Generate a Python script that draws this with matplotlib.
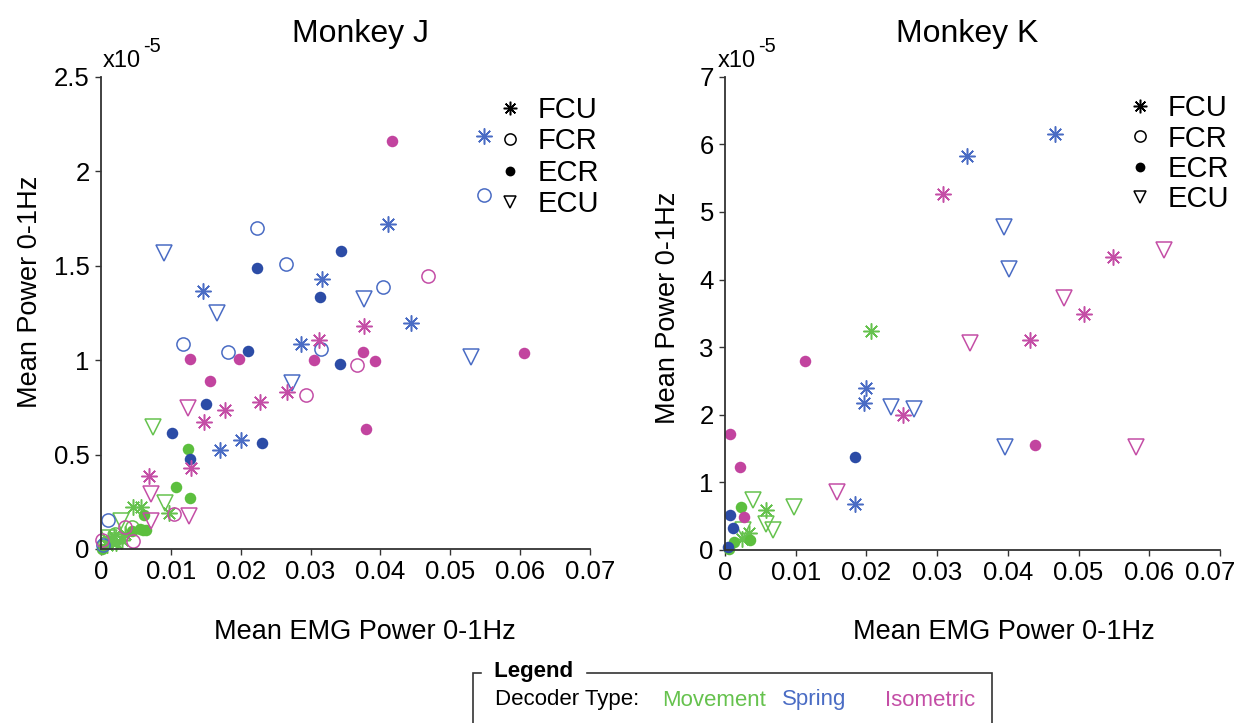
import matplotlib
matplotlib.use("Agg")
import matplotlib.pyplot as plt
from matplotlib.lines import Line2D
from matplotlib.patches import Rectangle
from matplotlib.transforms import ScaledTranslation

plt.rcParams["font.family"] = ["Liberation Sans", "DejaVu Sans"]

# decoder codes: M = movement, S = spring, I = isometric
# muscle codes: FCU, FCR, ECR, ECU
# y values are in units of 1e-5

# ---- Monkey J ----
j_x = [
    # spring
    0.0223, 0.0265, 0.0118, 0.0182, 0.0315, 0.00095, 0.0404, 0.0549, 0.0003,
    0.0223, 0.0343, 0.0314, 0.0211, 0.0342, 0.0151, 0.0102, 0.0231, 0.0127,
    0.01455, 0.0316, 0.0286, 0.0200, 0.0170, 0.0411, 0.0444, 0.0548,
    0.0090, 0.0166, 0.0274, 0.0529, 0.0377,
    # isometric
    0.0127, 0.0197, 0.0156, 0.0305, 0.0417, 0.0375, 0.0392, 0.0380, 0.0605,
    0.0178, 0.0148, 0.0227, 0.0266, 0.0312, 0.0069, 0.0129, 0.0377,
    0.0294, 0.0104, 0.0035, 0.0046, 0.0002, 0.0468, 0.0367,
    0.0125, 0.0071, 0.0126, 0.0071,
    # movement
    0.0075, 0.0092, 0.0029, 0.0012, 0.0025,
    0.0124, 0.0108, 0.0127, 0.0061, 0.0056, 0.0065, 0.0044, 0.0060, 0.0002,
    0.0097, 0.0046, 0.0058, 0.0008, 0.0015, 0.0022, 0.0030, 0.0018, 0.0035, 0.0010,
    0.0044, 0.0006, 0.0020,
]
j_y = [
    1.70, 1.51, 1.086, 1.044, 1.058, 0.153, 1.386, 1.876, 0.02,
    1.488, 1.578, 1.335, 1.051, 0.978, 0.767, 0.614, 0.561, 0.474,
    1.368, 1.430, 1.088, 0.578, 0.525, 1.724, 1.195, 2.186,
    1.569, 1.248, 0.878, 1.019, 1.322,
    1.007, 1.007, 0.890, 1.000, 2.160, 1.044, 0.994, 0.636, 1.037,
    0.737, 0.672, 0.781, 0.830, 1.105, 0.388, 0.430, 1.183,
    0.818, 0.183, 0.115, 0.044, 0.05, 1.446, 0.975,
    0.746, 0.293, 0.175, 0.146,
    0.644, 0.243, 0.146, 0.06, 0.04,
    0.527, 0.330, 0.270, 0.182, 0.108, 0.099, 0.097, 0.10, 0.0,
    0.190, 0.220, 0.220, 0.02, 0.04, 0.03, 0.05, 0.07, 0.08, 0.05,
    0.116, 0.03, 0.08,
]
j_dec = ["S"] * 31 + ["I"] * 28 + ["M"] * 27
j_mus = (
    ["FCR"] * 9 + ["ECR"] * 9 + ["FCU"] * 8 + ["ECU"] * 5
    + ["ECR"] * 9 + ["FCU"] * 8 + ["FCR"] * 7 + ["ECU"] * 4
    + ["ECU"] * 5 + ["ECR"] * 9 + ["FCU"] * 10 + ["FCR"] * 3
)

# ---- Monkey K ----
k_x = [
    # spring
    0.0199, 0.0196, 0.0184, 0.0467, 0.0342,
    0.0235, 0.0268, 0.0395, 0.0401, 0.0396,
    0.0184, 0.0007, 0.0012, 0.0005,
    # isometric
    0.0309, 0.0252, 0.0548, 0.0507, 0.0432,
    0.0113, 0.0007, 0.0021, 0.0027, 0.0438,
    0.0158, 0.0621, 0.0480, 0.0346, 0.0581,
    # movement
    0.0207, 0.0058, 0.0024, 0.0034,
    0.0040, 0.0097, 0.0058, 0.0068, 0.0026,
    0.0023, 0.0036, 0.0013, 0.0006,
]
k_y = [
    2.39, 2.18, 0.675, 6.16, 5.82,
    2.12, 2.08, 4.78, 4.16, 1.52,
    1.37, 0.52, 0.33, 0.04,
    5.26, 2.00, 4.33, 3.49, 3.10,
    2.79, 1.72, 1.23, 0.49, 1.55,
    0.86, 4.43, 3.72, 3.06, 1.53,
    3.24, 0.59, 0.16, 0.25,
    0.74, 0.63, 0.38, 0.30, 0.30,
    0.63, 0.15, 0.12, 0.02,
]
k_dec = ["S"] * 14 + ["I"] * 15 + ["M"] * 13
k_mus = (
    ["FCU"] * 5 + ["ECU"] * 5 + ["ECR"] * 4
    + ["FCU"] * 5 + ["ECR"] * 5 + ["ECU"] * 5
    + ["FCU"] * 4 + ["ECU"] * 5 + ["ECR"] * 4
)

muscles = ["FCU", "FCR", "ECR", "ECU"]
decoders = ["M", "S", "I"]
decoder_names = ["Movement", "Spring", "Isometric"]
line_colors = {"M": "#66c24e", "S": "#4a6cc4", "I": "#c44ea6"}
fill_colors = {"M": "#5cbf3e", "S": "#2c4ca6", "I": "#c2449f"}

marker_style = {
    "FCU": dict(marker=(8, 2, 0), markersize=11.5, markeredgewidth=1.1),
    "FCR": dict(marker="o", markersize=9.5, markeredgewidth=1.1, markerfacecolor="none"),
    "ECR": dict(marker="o", markersize=8.3, markeredgewidth=0),
    "ECU": dict(marker="v", markersize=11, markeredgewidth=1.1, markerfacecolor="none"),
}

fig = plt.figure(figsize=(12.42, 7.23), dpi=100)
ax_j = fig.add_axes([0.0813, 0.2407, 0.3937, 0.6528])
ax_k = fig.add_axes([0.5837, 0.2393, 0.3986, 0.6546])


def draw_panel(ax, xs, ys, decs, muss, ymax, yticks, ylabels):
    for d in decoders:
        for m in muscles:
            px = [x for x, dd, mm in zip(xs, decs, muss) if dd == d and mm == m]
            py = [y for y, dd, mm in zip(ys, decs, muss) if dd == d and mm == m]
            if not px:
                continue
            style = dict(marker_style[m])
            if m == "ECR":
                style["markerfacecolor"] = fill_colors[d]
            ax.plot(px, py, linestyle="none", color=line_colors[d],
                    clip_on=False, **style)
    ax.set_xlim(0, 0.07)
    ax.set_ylim(0, ymax)
    ax.set_xticks([0, 0.01, 0.02, 0.03, 0.04, 0.05, 0.06, 0.07])
    ax.set_xticklabels(["0", "0.01", "0.02", "0.03", "0.04", "0.05", "0.06", "0.07"])
    ax.set_yticks(yticks)
    ax.set_yticklabels(ylabels)
    for s in ["top", "right"]:
        ax.spines[s].set_visible(False)
    for s in ["left", "bottom"]:
        ax.spines[s].set_color("#333333")
        ax.spines[s].set_linewidth(1.3)
    ax.tick_params(labelsize=18.5, length=4, width=1, color="#333333", pad=4)

    handles = []
    for m in muscles:
        style = dict(marker_style[m])
        if m == "ECR":
            style["markerfacecolor"] = "black"
        style["markersize"] = style["markersize"] * 0.85
        handles.append(Line2D([], [], linestyle="none", color="black", **style))
    return handles


h = draw_panel(ax_j, j_x, j_y, j_dec, j_mus, 2.5,
               [0, 0.5, 1, 1.5, 2, 2.5], ["0", "0.5", "1", "1.5", "2", "2.5"])
ax_j.legend(h, muscles, loc="upper left", bbox_to_anchor=(0.8125, 0.96),
            frameon=False, fontsize=21, handlelength=0.8, handletextpad=0.56,
            labelspacing=0.12, borderpad=0, borderaxespad=0)
h = draw_panel(ax_k, k_x, k_y, k_dec, k_mus, 7,
               list(range(8)), [str(i) for i in range(8)])
ax_k.legend(h, muscles, loc="upper left", bbox_to_anchor=(0.815, 0.963),
            frameon=False, fontsize=21, handlelength=0.8, handletextpad=0.56,
            labelspacing=0.08, borderpad=0, borderaxespad=0)
# last tick label on the right panel sits flush with the figure edge
last = ax_k.get_xticklabels()[-1]
last.set_horizontalalignment("right")
last.set_transform(last.get_transform() + ScaledTranslation(0.15, 0, fig.dpi_scale_trans))

# titles, axis labels and exponent notes
fig.text(360 / 1242, 1 - 34 / 723, "Monkey J", fontsize=23, ha="center", va="center")
fig.text(967 / 1242, 1 - 34 / 723, "Monkey K", fontsize=23, ha="center", va="center")
for xc in (365, 1004):
    fig.text(xc / 1242, 1 - 632 / 723, "Mean EMG Power 0-1Hz", fontsize=19.5,
             ha="center", va="center")
for xc, yc in ((30, 292), (668, 308)):
    fig.text(xc / 1242, 1 - yc / 723, "Mean Power 0-1Hz", fontsize=19.5,
             ha="center", va="center", rotation=90)
for x0 in (103, 718):
    fig.text(x0 / 1242, 1 - 61 / 723, "x10", fontsize=17, ha="left", va="center")
    fig.text((x0 + 40) / 1242, 1 - 47 / 723, "-5", fontsize=14.5, ha="left", va="center")

# decoder colour key at the bottom
box = Rectangle((473 / 1242, -0.05), (992 - 473) / 1242, 0.05 + 50 / 723,
                transform=fig.transFigure, fill=False, edgecolor="#333333",
                linewidth=1.2, clip_on=False)
fig.patches.append(box)
fig.text(488 / 1242, 1 - 672 / 723, " Legend ", fontsize=16, fontweight="bold",
         ha="left", va="center", backgroundcolor="white")
fig.text(495 / 1242, 1 - 700 / 723, "Decoder Type:", fontsize=16,
         ha="left", va="center")
for name, d, x0 in zip(decoder_names, decoders, (662, 782, 885)):
    fig.text(x0 / 1242, 1 - 700 / 723, name, fontsize=16, ha="left",
             va="center", color=line_colors[d])

fig.savefig("out.png", dpi=100)
